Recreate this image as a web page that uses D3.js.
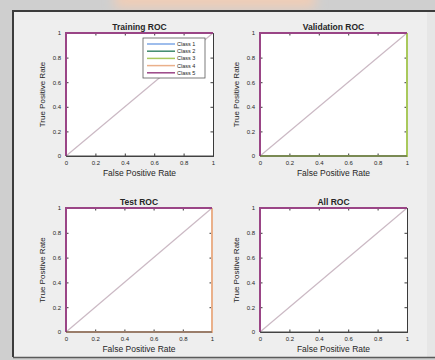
<!DOCTYPE html>
<html>
<head>
<meta charset="utf-8">
<script src="https://cdn.jsdelivr.net/npm/d3@7"></script>
<style>
  html, body { margin: 0; padding: 0; background: #cfcfcf; }
  svg { display: block; }
  text { font-family: "Liberation Sans", Arial, sans-serif; fill: #262626; }
</style>
</head>
<body>
<svg id="chart"></svg>
<script>
// data
var panels = ["Training ROC", "Validation ROC", "Test ROC", "All ROC"];
var classes = ["Class 1", "Class 2", "Class 3", "Class 4", "Class 5"];
var classColors = ["#7ea7e6", "#3f8a6c", "#a9c95c", "#eab08a", "#9a4586"];
var rateTicks = [0, 0.2, 0.4, 0.6, 0.8, 1];

// roc curve points (false positive rate, true positive rate)
var perfectFpr = [0, 0, 1];
var perfectTpr = [0, 1, 1];
var flatFpr = [0, 1, 1];
var flatTpr = [0, 0, 1];
// which curve each class has in each panel
var trainingCurves = ["perfect", "perfect", "perfect", "perfect", "perfect"];
var validationCurves = ["perfect", "perfect", "flat", "perfect", "perfect"];
var testCurves = ["perfect", "perfect", "perfect", "flat", "perfect"];
var allCurves = ["perfect", "perfect", "perfect", "perfect", "perfect"];
var panelCurves = [trainingCurves, validationCurves, testCurves, allCurves];

var width = 435, height = 360;

var svg = d3.select("#chart")
  .attr("width", width)
  .attr("height", height);

svg.append("defs").append("filter")
  .attr("id", "blur")
  .append("feGaussianBlur")
  .attr("stdDeviation", 6);

// screen background
svg.append("rect")
  .attr("width", width).attr("height", height)
  .attr("fill", "#cfcfcf");
svg.append("rect")
  .attr("x", 115).attr("y", -10).attr("width", 200).attr("height", 18)
  .attr("fill", "#f1cdb6")
  .attr("filter", "url(#blur)");

// figure window
svg.append("rect")
  .attr("x", 13).attr("y", 11)
  .attr("width", width - 13).attr("height", 346)
  .attr("fill", "#eeeeee");
svg.append("rect")
  .attr("x", 427).attr("y", 12)
  .attr("width", 8).attr("height", 345)
  .attr("fill", "#e6e6e6");
svg.append("path")
  .attr("d", "M13,357 L13,11 L435,11")
  .attr("fill", "none")
  .attr("stroke", "#3c3c3c")
  .attr("stroke-width", 2);
svg.append("line")
  .attr("x1", 13).attr("x2", 435)
  .attr("y1", 357.5).attr("y2", 357.5)
  .attr("stroke", "#5a5a5a")
  .attr("stroke-width", 1.5);

// axes boxes
var boxes = [
  { x0: 66, x1: 213, y0: 33, y1: 156 },
  { x0: 260, x1: 407, y0: 33, y1: 156 },
  { x0: 66, x1: 212, y0: 208, y1: 332 },
  { x0: 260, x1: 407, y0: 208, y1: 332 }
];

var line = d3.line();

panels.forEach(function (name, i) {
  var b = boxes[i];
  var x = d3.scaleLinear().domain([0, 1]).range([b.x0, b.x1]);
  var y = d3.scaleLinear().domain([0, 1]).range([b.y1, b.y0]);
  var g = svg.append("g").attr("class", "panel");

  g.append("rect")
    .attr("x", b.x0).attr("y", b.y0)
    .attr("width", b.x1 - b.x0).attr("height", b.y1 - b.y0)
    .attr("fill", "#ffffff");

  // axes, ticks pointing inward
  var bottom = g.append("g")
    .attr("transform", "translate(0," + b.y1 + ")")
    .call(d3.axisBottom(x).tickValues(rateTicks).tickSize(-2.5).tickPadding(5)
      .tickFormat(d3.format("~g")));
  var left = g.append("g")
    .attr("transform", "translate(" + b.x0 + ",0)")
    .call(d3.axisLeft(y).tickValues(rateTicks).tickSize(-2.5).tickPadding(5)
      .tickFormat(d3.format("~g")));
  var top = g.append("g")
    .attr("transform", "translate(0," + b.y0 + ")")
    .call(d3.axisTop(x).tickValues(rateTicks).tickSize(-2.5).tickFormat(""));
  var right = g.append("g")
    .attr("transform", "translate(" + b.x1 + ",0)")
    .call(d3.axisRight(y).tickValues(rateTicks).tickSize(-2.5).tickFormat(""));

  [bottom, left, top, right].forEach(function (a) {
    a.select(".domain").attr("stroke", "#3a3a3a").attr("stroke-width", 1);
    a.selectAll(".tick line").attr("stroke", "#3a3a3a");
    a.selectAll("text").style("font-size", "6px").attr("fill", "#333");
  });

  // chance line
  g.append("path")
    .attr("d", line([[x(0), y(0)], [x(1), y(1)]]))
    .attr("stroke", "#cbb9c4")
    .attr("stroke-width", 1.2)
    .attr("fill", "none");

  // class curves drawn over the axes box
  panelCurves[i].forEach(function (kind, c) {
    var fpr = kind == "perfect" ? perfectFpr : flatFpr;
    var tpr = kind == "perfect" ? perfectTpr : flatTpr;
    var pts = fpr.map(function (f, k) { return [x(f), y(tpr[k])]; });
    g.append("path")
      .attr("d", line(pts))
      .attr("fill", "none")
      .attr("stroke", classColors[c])
      .attr("stroke-width", 2);
  });
  // keep the bottom edge dark
  g.append("line")
    .attr("x1", b.x0).attr("x2", b.x1)
    .attr("y1", b.y1).attr("y2", b.y1)
    .attr("stroke", "#4a4a4a")
    .attr("stroke-width", 1);

  g.append("text")
    .attr("x", (b.x0 + b.x1) / 2)
    .attr("y", b.y0 - 3)
    .attr("text-anchor", "middle")
    .style("font-size", "8.5px")
    .style("font-weight", "bold")
    .text(name);

  g.append("text")
    .attr("x", (b.x0 + b.x1) / 2)
    .attr("y", b.y1 + 20)
    .attr("text-anchor", "middle")
    .style("font-size", "8.5px")
    .text("False Positive Rate");

  g.append("text")
    .attr("transform", "translate(" + (b.x0 - 21) + "," + ((b.y0 + b.y1) / 2) + ") rotate(-90)")
    .attr("text-anchor", "middle")
    .style("font-size", "8px")
    .text("True Positive Rate");

  if (i == 0) {
    var lg = g.append("g").attr("class", "legend");
    lg.append("rect")
      .attr("x", 143).attr("y", 38)
      .attr("width", 62).attr("height", 40)
      .attr("fill", "#ffffff")
      .attr("stroke", "#5a5a5a")
      .attr("stroke-width", 0.8);
    var items = lg.selectAll(".item")
      .data(classes)
      .enter()
      .append("g")
      .attr("class", "item")
      .attr("transform", function (d, k) { return "translate(147," + (44 + k * 7.2) + ")"; });
    items.append("line")
      .attr("x1", 0).attr("x2", 28)
      .attr("stroke", function (d, k) { return classColors[k]; })
      .attr("stroke-width", 1.5);
    items.append("text")
      .attr("x", 30).attr("y", 2)
      .style("font-size", "5.5px")
      .text(function (d) { return d; });
  }
});
</script>
</body>
</html>
